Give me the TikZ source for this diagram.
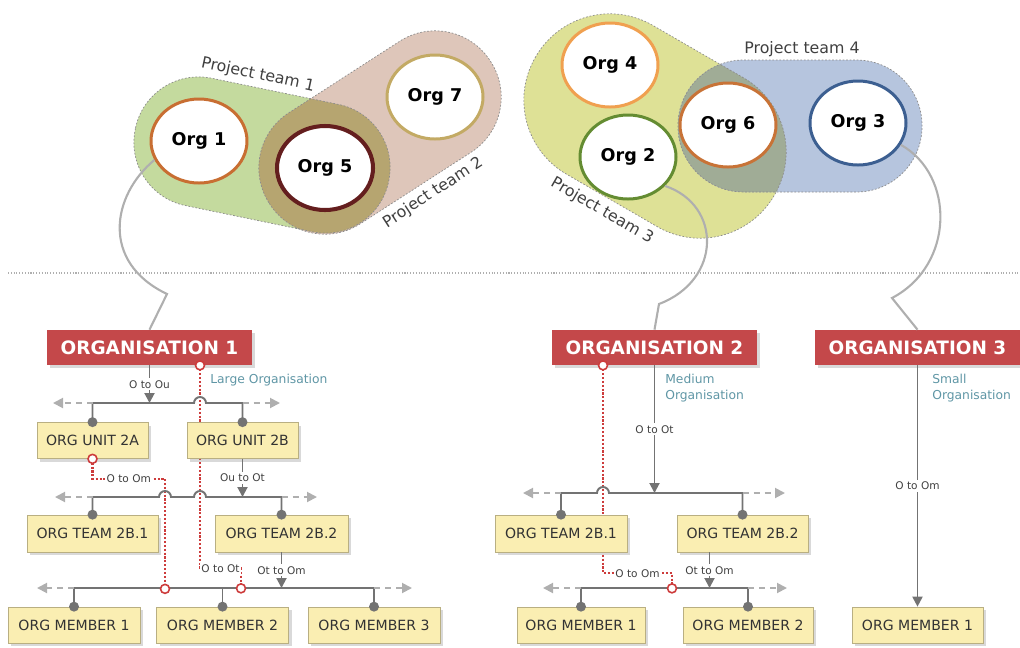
\documentclass[tikz,border=0pt]{standalone}
\usepackage{fontspec}
\setmainfont{DejaVu Sans}
\usetikzlibrary{arrows.meta,shapes.geometric,shadows,backgrounds}

\definecolor{orgred}{RGB}{196,72,74}
\definecolor{boxfill}{RGB}{250,238,178}
\definecolor{boxline}{RGB}{185,175,130}
\definecolor{linegray}{RGB}{115,115,115}
\definecolor{linklight}{RGB}{175,175,175}
\definecolor{dotred}{RGB}{205,60,60}
\definecolor{sizeteal}{RGB}{95,150,165}
\definecolor{teamA}{RGB}{196,218,158}
\definecolor{teamB}{RGB}{222,198,186}
\definecolor{teamAB}{RGB}{182,165,112}
\definecolor{teamC}{RGB}{222,225,150}
\definecolor{teamD}{RGB}{182,197,222}
\definecolor{teamCD}{RGB}{160,172,150}
\definecolor{ringA}{RGB}{200,110,50}
\definecolor{ringB}{RGB}{100,30,30}
\definecolor{ringC}{RGB}{195,170,100}
\definecolor{ringD}{RGB}{240,160,80}
\definecolor{ringE}{RGB}{100,140,50}
\definecolor{ringF}{RGB}{200,115,55}
\definecolor{ringG}{RGB}{60,95,145}

\begin{document}
\begin{tikzpicture}[x=0.2mm,y=-0.2mm,
	orgcircle/.style={ellipse,draw,fill=white,line width=1.7pt,minimum width=19.2mm,minimum height=16.8mm,inner sep=0pt,font=\fontsize{10}{12}\selectfont\bfseries},
	teamedge/.style={draw=black!45,line width=0.4pt,dash pattern=on 1pt off 1pt},
	teamlabel/.style={font=\fontsize{9}{11}\selectfont,text=black!75,inner sep=1pt},
	link/.style={draw=linklight,line width=1.2pt},
	orgbox/.style={fill=orgred,text=white,font=\fontsize{10.5}{12}\selectfont\bfseries,minimum width=41mm,minimum height=7mm,inner sep=0pt,drop shadow={shadow xshift=0.6mm,shadow yshift=-0.6mm,opacity=0.3}},
	unitbox/.style={draw=boxline,fill=boxfill,text=black!80,font=\fontsize{8}{10}\selectfont,minimum height=7.2mm,inner sep=0pt,drop shadow={shadow xshift=0.6mm,shadow yshift=-0.6mm,opacity=0.3}},
	bar/.style={draw=linegray,line width=1.1pt},
	flow/.style={bar,-{Triangle[width=2mm,length=2mm]}},
	ext/.style={draw=linklight,line width=1.1pt,dash pattern=on 1.2mm off 1mm,-{Triangle[width=2mm,length=2mm]}},
	rel/.style={draw=dotred,line width=1.2pt,densely dotted},
	relend/.style={draw=dotred,fill=white,line width=0.9pt},
	rellabel/.style={font=\fontsize{6}{7}\selectfont,text=black!75,fill=white,inner sep=1pt},
	sizelabel/.style={font=\fontsize{7}{9}\selectfont,text=sizeteal,anchor=west,align=left,inner sep=0pt}]
	\useasboundingbox (0,0) rectangle (1020,647);

	% project teams 1 and 2
	\fill[teamA,shift={(262,155)},rotate=-11.66,rounded corners=12.9mm] (-129.35,-65) rectangle (129.35,65);
	\fill[teamB,shift={(380,132.5)},rotate=32.84,rounded corners=13.1mm] (-131.45,-66) rectangle (131.45,66);
	\begin{scope}
		\clip[shift={(262,155)},rotate=-11.66,rounded corners=12.9mm] (-129.35,-65) rectangle (129.35,65);
		\fill[teamAB,shift={(380,132.5)},rotate=32.84,rounded corners=13.1mm] (-131.45,-66) rectangle (131.45,66);
	\end{scope}
	\draw[teamedge,shift={(262,155)},rotate=-11.66,rounded corners=12.9mm] (-129.35,-65) rectangle (129.35,65);
	\draw[teamedge,shift={(380,132.5)},rotate=32.84,rounded corners=13.1mm] (-131.45,-66) rectangle (131.45,66);

	% project teams 3 and 4
	\fill[teamC,shift={(655,126)},rotate=-30.02,rounded corners=17.1mm] (-137.95,-86) rectangle (137.95,86);
	\fill[teamD,shift={(800,126)},rounded corners=13.1mm] (-122,-66) rectangle (122,66);
	\begin{scope}
		\clip[shift={(655,126)},rotate=-30.02,rounded corners=17.1mm] (-137.95,-86) rectangle (137.95,86);
		\fill[teamCD,shift={(800,126)},rounded corners=13.1mm] (-122,-66) rectangle (122,66);
	\end{scope}
	\draw[teamedge,shift={(655,126)},rotate=-30.02,rounded corners=17.1mm] (-137.95,-86) rectangle (137.95,86);
	\draw[teamedge,shift={(800,126)},rounded corners=13.1mm] (-122,-66) rectangle (122,66);

	\node[teamlabel,rotate=-12] (pt1) at (258,75) {Project team 1};
	\node[teamlabel,rotate=33] (pt2) at (433,193) {Project team 2};
	\node[teamlabel,rotate=-30] (pt3) at (602,211) {Project team 3};
	\node[teamlabel] (pt4) at (802,49) {Project team 4};

	% organisations in the teams
	\node[orgcircle,draw=ringA] (org1) at (199,141) {Org 1};
	\node[orgcircle,draw=ringB,line width=2.3pt] (org5) at (325,168) {Org 5};
	\node[orgcircle,draw=ringC] (org7) at (435,97) {Org 7};
	\node[orgcircle,draw=ringD] (org4) at (610,65) {Org 4};
	\node[orgcircle,draw=ringE] (org2) at (628,157) {Org 2};
	\node[orgcircle,draw=ringF] (org6) at (728,125) {Org 6};
	\node[orgcircle,draw=ringG] (org3) at (858,123) {Org 3};

	% organisation boxes
	\node[orgbox] (o1) at (149.5,347.5) {ORGANISATION 1};
	\node[orgbox] (o2) at (654.5,347.5) {ORGANISATION 2};
	\node[orgbox] (o3) at (917.5,347.5) {ORGANISATION 3};

	\coordinate (k1) at (167,294);
	\coordinate (k2) at (659,304);
	\coordinate (k3) at (892,298);
	\draw[link] (org1.203) .. controls (112,195) and (100,262) .. (k1) -- (o1.north);
	\draw[link] (org2.-38) .. controls (722,205) and (722,280) .. (k2) -- (o2.north);
	\draw[link] (org3.-27) .. controls (955,175) and (955,265) .. (k3) -- (o3.north);

	\node[sizelabel] (lg1) at (210,380) {Large Organisation};
	\node[sizelabel] (md2) at (665,388) {Medium\\Organisation};
	\node[sizelabel] (sm3) at (932,388) {Small\\Organisation};

	% organisation 1
	\node[unitbox,minimum width=22.2mm] (u2a) at (92.5,440.5) {ORG UNIT 2A};
	\node[unitbox,minimum width=22.2mm] (u2b) at (242.5,440.5) {ORG UNIT 2B};
	\node[unitbox,minimum width=26.2mm,minimum height=7.4mm] (t2b1) at (92.5,533.5) {ORG TEAM 2B.1};
	\node[unitbox,minimum width=26.6mm,minimum height=7.4mm] (t2b2) at (281.5,533.5) {ORG TEAM 2B.2};
	\node[unitbox,minimum width=26.4mm] (m11) at (74,625) {ORG MEMBER 1};
	\node[unitbox,minimum width=26.4mm] (m12) at (222.5,625) {ORG MEMBER 2};
	\node[unitbox,minimum width=26.4mm] (m13) at (374,625) {ORG MEMBER 3};

	\coordinate (ub1w) at (53,403);
	\coordinate (ub1e) at (280,403);
	\coordinate (tb1w) at (55,497);
	\coordinate (tb1e) at (317,497);
	\coordinate (mb1w) at (37,588);
	\coordinate (mb1e) at (412,588);
	\coordinate (r1top) at ([xshift=10.1mm]o1.south);

	\begin{pgfonlayer}{background}
		\draw[linklight,densely dotted,line width=0.6pt] (8,273) -- (1020,273);
		\draw[rel] (r1top) -- ++(0,203) -- ++(41,0) node[rellabel,midway] {O to Ot} -- ++(0,20) coordinate (r1end);
		\draw[rel] (u2a.south) -- ++(0,20) -- ++(72.5,0) node[rellabel,midway] {O to Om} -- ++(0,110) coordinate (r2end);
	\end{pgfonlayer}

	\draw[bar] (u2a.north) -- (u2a.north |- ub1w) -- (194,403) arc[start angle=180,end angle=360,radius=6] -- (u2b.north |- ub1w) -- (u2b.north);
	\draw[ext] (u2a.north |- ub1w) -- (ub1w);
	\draw[ext] (u2b.north |- ub1e) -- (ub1e);
	\draw[bar] (t2b1.north) -- (t2b1.north |- tb1w) -- (159,497) arc[start angle=180,end angle=360,radius=6] -- (194,497) arc[start angle=180,end angle=360,radius=6] -- (t2b2.north |- tb1w) -- (t2b2.north);
	\draw[ext] (t2b1.north |- tb1w) -- (tb1w);
	\draw[ext] (t2b2.north |- tb1e) -- (tb1e);
	\draw[bar] (m11.north) -- (m11.north |- mb1w) -- (m13.north |- mb1w) -- (m13.north);
	\draw[bar] (m12.north) -- (m12.north |- mb1w);
	\draw[ext] (m11.north |- mb1w) -- (mb1w);
	\draw[ext] (m13.north |- mb1e) -- (mb1e);

	\draw[flow] (o1.south) -- (o1.south |- ub1w) node[rellabel,midway] {O to Ou};
	\draw[flow] (u2b.south) -- (u2b.south |- tb1w) node[rellabel,midway] {Ou to Ot};
	\draw[flow] (t2b2.south) -- (t2b2.south |- mb1w) node[rellabel,midway] {Ot to Om};

	\foreach \n in {u2a,u2b,t2b1,t2b2,m11,m12,m13}
		\fill[linegray] (\n.north) circle (1mm);
	\draw[relend] (r1top) circle (0.9mm);
	\draw[relend] (u2a.south) circle (0.9mm);
	\draw[relend] (r1end) circle (0.9mm);
	\draw[relend] (r2end) circle (0.9mm);

	% organisation 2
	\node[unitbox,minimum width=26.4mm,minimum height=7.4mm] (t21) at (561,533.5) {ORG TEAM 2B.1};
	\node[unitbox,minimum width=26.2mm,minimum height=7.4mm] (t22) at (742.5,533.5) {ORG TEAM 2B.2};
	\node[unitbox,minimum width=25.6mm] (m21) at (581,625) {ORG MEMBER 1};
	\node[unitbox,minimum width=26mm] (m22) at (748,625) {ORG MEMBER 2};

	\coordinate (tb2w) at (523,493);
	\coordinate (tb2e) at (785,493);
	\coordinate (mb2w) at (543,588);
	\coordinate (mb2e) at (787,588);
	\coordinate (r3top) at ([xshift=-10.3mm]o2.south);

	\begin{pgfonlayer}{background}
		\draw[rel] (r3top) -- ++(0,208) -- ++(69,0) node[rellabel,midway] {O to Om} -- ++(0,15) coordinate (r3end);
	\end{pgfonlayer}

	\draw[bar] (t21.north) -- (t21.north |- tb2w) -- (597,493) arc[start angle=180,end angle=360,radius=6] -- (t22.north |- tb2w) -- (t22.north);
	\draw[ext] (t21.north |- tb2w) -- (tb2w);
	\draw[ext] (t22.north |- tb2e) -- (tb2e);
	\draw[bar] (m21.north) -- (m21.north |- mb2w) -- (m22.north |- mb2w) -- (m22.north);
	\draw[ext] (m21.north |- mb2w) -- (mb2w);
	\draw[ext] (m22.north |- mb2e) -- (mb2e);

	\draw[flow] (o2.south) -- (o2.south |- tb2w) node[rellabel,midway] {O to Ot};
	\draw[flow] ([xshift=-6.6mm]t22.south) -- ([xshift=-6.6mm]t22.south |- mb2w) node[rellabel,midway] {Ot to Om};

	\foreach \n in {t21,t22,m21,m22}
		\fill[linegray] (\n.north) circle (1mm);
	\draw[relend] (r3top) circle (0.9mm);
	\draw[relend] (r3end) circle (0.9mm);

	% organisation 3
	\node[unitbox,minimum width=26.2mm] (m31) at (917.5,625) {ORG MEMBER 1};
	\draw[flow] (o3.south) -- (m31.north) node[rellabel,midway] {O to Om};

\end{tikzpicture}
\end{document}
